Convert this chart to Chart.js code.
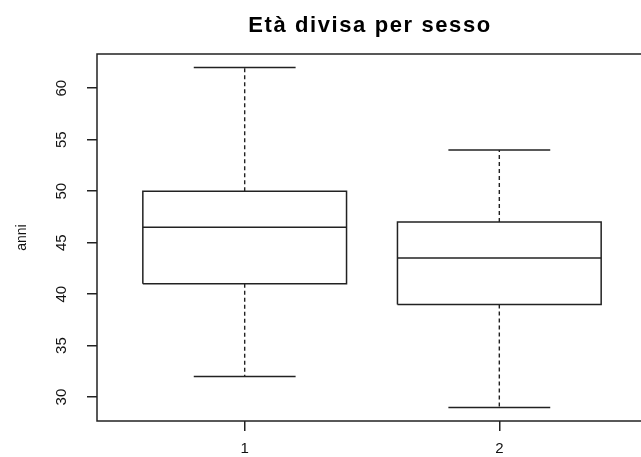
<!DOCTYPE html>
<html>
<head>
<meta charset="utf-8">
<script src="https://cdn.jsdelivr.net/npm/chart.js@4"></script>
<style>
  html, body { margin: 0; padding: 0; background: #fff; overflow: hidden; width: 641px; height: 457px; }
  canvas { display: block; }
</style>
</head>
<body>
<canvas id="c" width="660" height="457"></canvas>
<script>
// ---- data ----
const categories = ['1', '2'];
const whiskerLow  = [32, 29];
const q1          = [41, 39];
const median      = [46.5, 43.5];
const q3          = [50, 47];
const whiskerHigh = [62, 54];
const yTicks = [30, 35, 40, 45, 50, 55, 60];
const titleText = 'Età divisa per sesso';
const yTitle = 'anni';

// ---- style constants ----
const INK = '#222';
const BOX_HALF = 0.4;   // boxwex 0.8
const CAP_HALF = 0.2;   // staplewex 0.5

const datasets = [];
categories.forEach((c, i) => {
  const x = i + 1;
  // box
  datasets.push({
    data: [
      {x: x - BOX_HALF, y: q1[i]}, {x: x + BOX_HALF, y: q1[i]},
      {x: x + BOX_HALF, y: q3[i]}, {x: x - BOX_HALF, y: q3[i]},
      {x: x - BOX_HALF, y: q1[i]}
    ],
    borderColor: INK, borderWidth: 1.5
  });
  // median
  datasets.push({
    data: [{x: x - BOX_HALF, y: median[i]}, {x: x + BOX_HALF, y: median[i]}],
    borderColor: INK, borderWidth: 1.5
  });
  // whiskers (dashed)
  datasets.push({
    data: [{x: x, y: q3[i]}, {x: x, y: whiskerHigh[i]}],
    borderColor: INK, borderWidth: 1.4, borderDash: [4, 3]
  });
  datasets.push({
    data: [{x: x, y: q1[i]}, {x: x, y: whiskerLow[i]}],
    borderColor: INK, borderWidth: 1.4, borderDash: [4, 3]
  });
  // caps
  datasets.push({
    data: [{x: x - CAP_HALF, y: whiskerHigh[i]}, {x: x + CAP_HALF, y: whiskerHigh[i]}],
    borderColor: INK, borderWidth: 1.5
  });
  datasets.push({
    data: [{x: x - CAP_HALF, y: whiskerLow[i]}, {x: x + CAP_HALF, y: whiskerLow[i]}],
    borderColor: INK, borderWidth: 1.5
  });
});
datasets.forEach(d => { d.showLine = true; d.pointRadius = 0; d.fill = false; d.tension = 0; });

// R-style axis extents (4% extension)
const allVals = whiskerLow.concat(whiskerHigh);
const yMinData = Math.min(...allVals), yMaxData = Math.max(...allVals);
const yPad = (yMaxData - yMinData) * 0.04;
const xMin = 0.5 - 0.04 * categories.length, xMax = categories.length + 0.5 + 0.04 * categories.length;

const framePlugin = {
  id: 'frame',
  afterDraw(chart) {
    const {ctx, chartArea: a} = chart;
    ctx.save();
    ctx.strokeStyle = INK;
    ctx.lineWidth = 1.5;
    ctx.strokeRect(a.left, a.top, a.right - a.left, a.bottom - a.top);
    // title
    ctx.fillStyle = '#000';
    ctx.font = 'bold 22px "Liberation Sans", Arial, sans-serif';
    ctx.letterSpacing = '1.6px';
    ctx.textAlign = 'center';
    ctx.textBaseline = 'alphabetic';
    ctx.fillText(titleText, (a.left + a.right) / 2 - 2, 32);
    ctx.restore();
  }
};

new Chart(document.getElementById('c'), {
  type: 'scatter',
  data: { datasets },
  plugins: [framePlugin],
  options: {
    responsive: false,
    animation: false,
    layout: { padding: { left: 0, top: 54, right: 13, bottom: 0 } },
    plugins: { legend: { display: false }, tooltip: { enabled: false }, title: { display: false } },
    scales: {
      x: {
        type: 'linear',
        min: xMin, max: xMax,
        afterBuildTicks(s) { s.ticks = categories.map((c, i) => ({ value: i + 1 })); },
        afterFit(s) { s.height = 36; },
        ticks: {
          callback: (v) => categories[v - 1] ?? '',
          color: '#111',
          font: { family: '"Liberation Sans", Arial, sans-serif', size: 15 },
          padding: 9,
          autoSkip: false, maxRotation: 0
        },
        grid: { drawOnChartArea: false, drawTicks: true, tickLength: 10, color: INK, lineWidth: 1.5 },
        border: { display: false }
      },
      y: {
        type: 'linear',
        min: yMinData - yPad, max: yMaxData + yPad,
        afterBuildTicks(s) { s.ticks = yTicks.map(v => ({ value: v })); },
        afterFit(s) { s.width = 97; },
        ticks: {
          callback: (v) => String(v),
          color: '#111',
          font: { family: '"Liberation Sans", Arial, sans-serif', size: 15 },
          minRotation: 90, maxRotation: 90,
          crossAlign: 'center',
          padding: 17
        },
        grid: { drawOnChartArea: false, drawTicks: true, tickLength: 10, color: INK, lineWidth: 1.5 },
        border: { display: false },
        title: {
          display: true, text: yTitle, color: '#111',
          font: { family: '"Liberation Sans", Arial, sans-serif', size: 14 },
          padding: { top: 14, bottom: 0 }
        }
      }
    }
  }
});
</script>
</body>
</html>
